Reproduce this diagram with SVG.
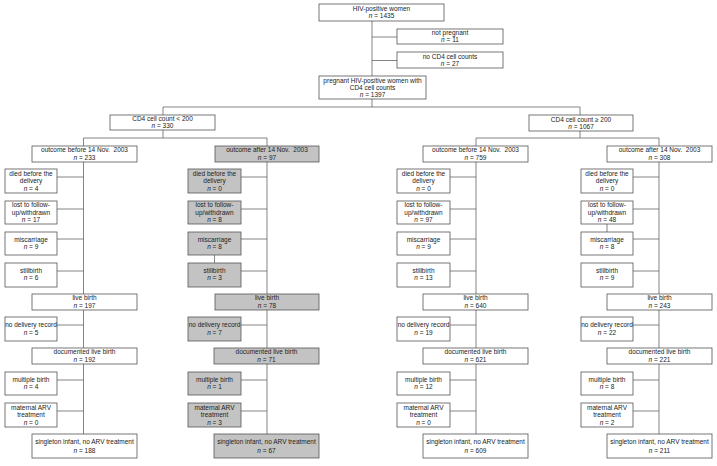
<svg xmlns="http://www.w3.org/2000/svg" width="717" height="466" viewBox="0 0 717 466">
<style>
.b{fill:#fff;stroke:#555;stroke-width:0.8}
.g{fill:#c3c3c3;stroke:#555;stroke-width:0.8}
.l{stroke:#666;stroke-width:0.8;fill:none}
text{font-family:"Liberation Sans",Arial,sans-serif;font-size:6.5px;fill:#222;text-anchor:middle}
.i{font-style:italic}
</style>
<rect width="717" height="466" fill="#fff"/>
<g id="connectors">
<path class="l" d="M372 21V76M372 37H397M372 60.5H397M372 99V107M163 107H580M163 107V115M163 130V138M83.5 138H267M580 107V138M476 138H659"/>
<path class="l" d="M83.5 138V434M57 177H83.5M57 209H83.5M57 239H83.5M57 271H83.5M57 325H83.5M57 380H83.5M57 411H83.5"/>
<path class="l" d="M267 138V434M241 177H267M241 209H267M241 239H267M241 271H267M241 325H267M241 380H267M241 411H267M214.5 255V263"/>
<path class="l" d="M476 138V434M450 177H476M450 209H476M450 239H476M450 271H476M450 325H476M450 380H476M450 411H476"/>
<path class="l" d="M659 138V434M633 177H659M633 209H659M633 239H659M633 271H659M633 325H659M633 380H659M633 411H659M607 224V232"/>
</g>
<g id="hiv"><rect class="b" x="319" y="4" width="125" height="17"/><text x="381.5" y="10.5">HIV-positive women</text><text x="381.5" y="18"><tspan class="i">n</tspan> = 1435</text></g>
<g id="notpreg"><rect class="b" x="397" y="29" width="106" height="15"/><text x="450" y="35">not pregnant</text><text x="450" y="42"><tspan class="i">n</tspan> = 11</text></g>
<g id="nocd4"><rect class="b" x="397" y="52" width="106" height="16"/><text x="450" y="58.5">no CD4 cell counts</text><text x="450" y="65.5"><tspan class="i">n</tspan> = 27</text></g>
<g id="pregnant"><rect class="b" x="319" y="76" width="107" height="23"/><text x="372.5" y="82.5">pregnant HIV-positive women with</text><text x="372.5" y="89.5">CD4 cell counts</text><text x="372.5" y="96.5"><tspan class="i">n</tspan> = 1397</text></g>
<g id="cd4lo"><rect class="b" x="110" y="115" width="105" height="15"/><text x="162.5" y="121">CD4 cell count &lt; 200</text><text x="162.5" y="128"><tspan class="i">n</tspan> = 330</text></g>
<g id="cd4hi"><rect class="b" x="529" y="115" width="104" height="16"/><text x="581" y="121.5">CD4 cell count ≥ 200</text><text x="581" y="128.5"><tspan class="i">n</tspan> = 1067</text></g>

<g id="c1-out"><rect class="b" x="32" y="146" width="105" height="16"/><text x="84.5" y="152">outcome before 14 Nov.&#160; 2003</text><text x="84.5" y="159.5"><tspan class="i">n</tspan> = 233</text></g>
<g id="c1-died"><rect class="b" x="5" y="169" width="52" height="24"/><text x="31" y="175.5">died before the</text><text x="31" y="183">delivery</text><text x="31" y="190.5"><tspan class="i">n</tspan> = 4</text></g>
<g id="c1-lost"><rect class="b" x="5" y="201" width="52" height="23"/><text x="31" y="207">lost to follow-</text><text x="31" y="214.5">up/withdrawn</text><text x="31" y="222"><tspan class="i">n</tspan> = 17</text></g>
<g id="c1-misc"><rect class="b" x="5" y="232" width="52" height="23"/><text x="31" y="241.5">miscarriage</text><text x="31" y="249"><tspan class="i">n</tspan> = 9</text></g>
<g id="c1-still"><rect class="b" x="5" y="263" width="52" height="24"/><text x="31" y="272.5">stillbirth</text><text x="31" y="280"><tspan class="i">n</tspan> = 6</text></g>
<g id="c1-live"><rect class="b" x="32" y="294" width="105" height="16"/><text x="84.5" y="300">live birth</text><text x="84.5" y="307.5"><tspan class="i">n</tspan> = 197</text></g>
<g id="c1-nodel"><rect class="b" x="5" y="317" width="52" height="24"/><text x="31" y="327">no delivery record</text><text x="31" y="334.5"><tspan class="i">n</tspan> = 5</text></g>
<g id="c1-doc"><rect class="b" x="32" y="348" width="105" height="16"/><text x="84.5" y="354">documented live birth</text><text x="84.5" y="361.5"><tspan class="i">n</tspan> = 192</text></g>
<g id="c1-mult"><rect class="b" x="5" y="372" width="52" height="23"/><text x="31" y="381.5">multiple birth</text><text x="31" y="389"><tspan class="i">n</tspan> = 4</text></g>
<g id="c1-arv"><rect class="b" x="5" y="403" width="52" height="24"/><text x="31" y="409.5">maternal ARV</text><text x="31" y="417">treatment</text><text x="31" y="424.5"><tspan class="i">n</tspan> = 0</text></g>
<g id="c1-single"><rect class="b" x="32" y="434" width="105" height="24"/><text x="84.5" y="444">singleton infant, no ARV treatment</text><text x="84.5" y="452.5"><tspan class="i">n</tspan> = 188</text></g>

<g id="c2-out"><rect class="g" x="215" y="146" width="104" height="16"/><text x="267" y="152">outcome after 14 Nov.&#160; 2003</text><text x="267" y="159.5"><tspan class="i">n</tspan> = 97</text></g>
<g id="c2-died"><rect class="g" x="188" y="169" width="53" height="24"/><text x="214.5" y="175.5">died before the</text><text x="214.5" y="183">delivery</text><text x="214.5" y="190.5"><tspan class="i">n</tspan> = 0</text></g>
<g id="c2-lost"><rect class="g" x="188" y="201" width="53" height="23"/><text x="214.5" y="207">lost to follow-</text><text x="214.5" y="214.5">up/withdrawn</text><text x="214.5" y="222"><tspan class="i">n</tspan> = 8</text></g>
<g id="c2-misc"><rect class="g" x="188" y="232" width="53" height="23"/><text x="214.5" y="241.5">miscarriage</text><text x="214.5" y="249"><tspan class="i">n</tspan> = 8</text></g>
<g id="c2-still"><rect class="g" x="188" y="263" width="53" height="24"/><text x="214.5" y="272.5">stillbirth</text><text x="214.5" y="280"><tspan class="i">n</tspan> = 3</text></g>
<g id="c2-live"><rect class="g" x="215" y="294" width="104" height="16"/><text x="267" y="300">live birth</text><text x="267" y="307.5"><tspan class="i">n</tspan> = 78</text></g>
<g id="c2-nodel"><rect class="g" x="188" y="317" width="53" height="24"/><text x="214.5" y="327">no delivery record</text><text x="214.5" y="334.5"><tspan class="i">n</tspan> = 7</text></g>
<g id="c2-doc"><rect class="g" x="214" y="348" width="105" height="16"/><text x="266.5" y="354">documented live birth</text><text x="266.5" y="361.5"><tspan class="i">n</tspan> = 71</text></g>
<g id="c2-mult"><rect class="g" x="188" y="372" width="53" height="23"/><text x="214.5" y="381.5">multiple birth</text><text x="214.5" y="389"><tspan class="i">n</tspan> = 1</text></g>
<g id="c2-arv"><rect class="g" x="188" y="403" width="53" height="24"/><text x="214.5" y="409.5">maternal ARV</text><text x="214.5" y="417">treatment</text><text x="214.5" y="424.5"><tspan class="i">n</tspan> = 3</text></g>
<g id="c2-single"><rect class="g" x="214" y="434" width="105" height="24"/><text x="266.5" y="444">singleton infant, no ARV treatment</text><text x="266.5" y="452.5"><tspan class="i">n</tspan> = 67</text></g>

<g id="c3-out"><rect class="b" x="423" y="146" width="105" height="16"/><text x="475.5" y="152">outcome before 14 Nov.&#160; 2003</text><text x="475.5" y="159.5"><tspan class="i">n</tspan> = 759</text></g>
<g id="c3-died"><rect class="b" x="397" y="169" width="53" height="24"/><text x="423.5" y="175.5">died before the</text><text x="423.5" y="183">delivery</text><text x="423.5" y="190.5"><tspan class="i">n</tspan> = 0</text></g>
<g id="c3-lost"><rect class="b" x="397" y="201" width="53" height="23"/><text x="423.5" y="207">lost to follow-</text><text x="423.5" y="214.5">up/withdrawn</text><text x="423.5" y="222"><tspan class="i">n</tspan> = 97</text></g>
<g id="c3-misc"><rect class="b" x="397" y="232" width="53" height="23"/><text x="423.5" y="241.5">miscarriage</text><text x="423.5" y="249"><tspan class="i">n</tspan> = 9</text></g>
<g id="c3-still"><rect class="b" x="397" y="263" width="53" height="24"/><text x="423.5" y="272.5">stillbirth</text><text x="423.5" y="280"><tspan class="i">n</tspan> = 13</text></g>
<g id="c3-live"><rect class="b" x="423" y="294" width="105" height="16"/><text x="475.5" y="300">live birth</text><text x="475.5" y="307.5"><tspan class="i">n</tspan> = 640</text></g>
<g id="c3-nodel"><rect class="b" x="397" y="317" width="53" height="24"/><text x="423.5" y="327">no delivery record</text><text x="423.5" y="334.5"><tspan class="i">n</tspan> = 19</text></g>
<g id="c3-doc"><rect class="b" x="423" y="348" width="105" height="16"/><text x="475.5" y="354">documented live birth</text><text x="475.5" y="361.5"><tspan class="i">n</tspan> = 621</text></g>
<g id="c3-mult"><rect class="b" x="397" y="372" width="53" height="23"/><text x="423.5" y="381.5">multiple birth</text><text x="423.5" y="389"><tspan class="i">n</tspan> = 12</text></g>
<g id="c3-arv"><rect class="b" x="397" y="403" width="53" height="24"/><text x="423.5" y="409.5">maternal ARV</text><text x="423.5" y="417">treatment</text><text x="423.5" y="424.5"><tspan class="i">n</tspan> = 0</text></g>
<g id="c3-single"><rect class="b" x="423" y="434" width="105" height="24"/><text x="475.5" y="444">singleton infant, no ARV treatment</text><text x="475.5" y="452.5"><tspan class="i">n</tspan> = 609</text></g>

<g id="c4-out"><rect class="b" x="607" y="146" width="105" height="16"/><text x="659.5" y="152">outcome after 14 Nov.&#160; 2003</text><text x="659.5" y="159.5"><tspan class="i">n</tspan> = 308</text></g>
<g id="c4-died"><rect class="b" x="581" y="169" width="52" height="24"/><text x="607" y="175.5">died before the</text><text x="607" y="183">delivery</text><text x="607" y="190.5"><tspan class="i">n</tspan> = 0</text></g>
<g id="c4-lost"><rect class="b" x="581" y="201" width="52" height="23"/><text x="607" y="207">lost to follow-</text><text x="607" y="214.5">up/withdrawn</text><text x="607" y="222"><tspan class="i">n</tspan> = 48</text></g>
<g id="c4-misc"><rect class="b" x="581" y="232" width="52" height="23"/><text x="607" y="241.5">miscarriage</text><text x="607" y="249"><tspan class="i">n</tspan> = 8</text></g>
<g id="c4-still"><rect class="b" x="581" y="263" width="52" height="24"/><text x="607" y="272.5">stillbirth</text><text x="607" y="280"><tspan class="i">n</tspan> = 9</text></g>
<g id="c4-live"><rect class="b" x="607" y="294" width="105" height="16"/><text x="659.5" y="300">live birth</text><text x="659.5" y="307.5"><tspan class="i">n</tspan> = 243</text></g>
<g id="c4-nodel"><rect class="b" x="581" y="317" width="52" height="24"/><text x="607" y="327">no delivery record</text><text x="607" y="334.5"><tspan class="i">n</tspan> = 22</text></g>
<g id="c4-doc"><rect class="b" x="607" y="348" width="105" height="16"/><text x="659.5" y="354">documented live birth</text><text x="659.5" y="361.5"><tspan class="i">n</tspan> = 221</text></g>
<g id="c4-mult"><rect class="b" x="581" y="372" width="52" height="23"/><text x="607" y="381.5">multiple birth</text><text x="607" y="389"><tspan class="i">n</tspan> = 8</text></g>
<g id="c4-arv"><rect class="b" x="581" y="403" width="52" height="24"/><text x="607" y="409.5">maternal ARV</text><text x="607" y="417">treatment</text><text x="607" y="424.5"><tspan class="i">n</tspan> = 2</text></g>
<g id="c4-single"><rect class="b" x="607" y="434" width="105" height="24"/><text x="659.5" y="444">singleton infant, no ARV treatment</text><text x="659.5" y="452.5"><tspan class="i">n</tspan> = 211</text></g>
</svg>
